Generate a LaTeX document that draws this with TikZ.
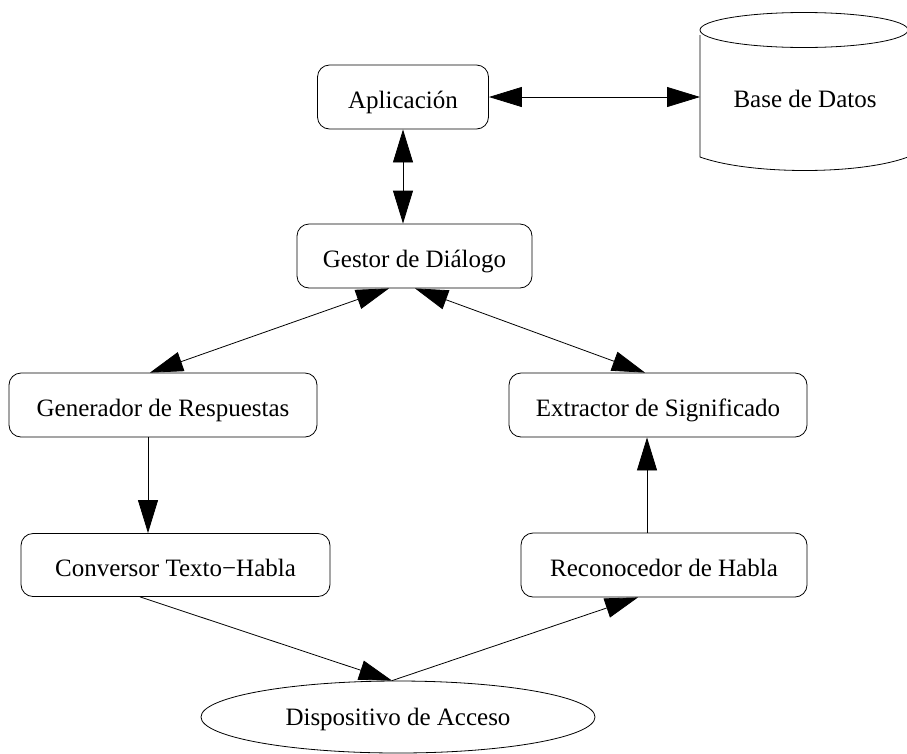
\documentclass[tikz,border=0pt]{standalone}
\usepackage{fontspec}
\setmainfont{Liberation Serif}
\usetikzlibrary{arrows.meta,shapes.geometric}

\begin{document}
\begin{tikzpicture}[x=1pt,y=-1pt,
  font=\fontsize{25}{30}\selectfont,
  every node/.style={inner sep=0pt},
  lowtext/.style={text height=22pt, text depth=0pt},
  box/.style={draw, rounded corners=12pt, line width=0.8pt, lowtext},
  oval/.style={draw, ellipse, line width=0.8pt, inner sep=0pt, text height=16pt, text depth=0pt},
  link/.style={line width=0.8pt, -{Triangle[length=33pt,width=20pt]}},
  dlink/.style={line width=0.8pt, {Triangle[length=33pt,width=20pt]}-{Triangle[length=33pt,width=20pt]}}]
  \useasboundingbox (0,0) rectangle (907,753);
  \clip (0,0) rectangle (907,753);

  % processing modules
  \node[box, minimum width=171pt, minimum height=64pt] (app)    at (403,97)    {Aplicación};
  \node[box, minimum width=235pt, minimum height=64pt] (gestor) at (414.5,256)  {Gestor de Diálogo};
  \node[box, minimum width=308pt, minimum height=64pt] (gen)    at (163,405)    {Generador de Respuestas};
  \node[box, minimum width=298pt, minimum height=64pt] (ext)    at (658,405)    {Extractor de Significado};
  \node[box, minimum width=309pt, minimum height=63pt] (conv)   at (175.5,565)  {Conversor Texto−Habla};
  \node[box, minimum width=286pt, minimum height=64pt] (rec)    at (664,565)    {Reconocedor de Habla};
  \node[oval, minimum width=394pt, minimum height=72pt] (disp)  at (398,717)    {Dispositivo de Acceso};

  % database drum
  \draw[line width=0.8pt] (804,30) ellipse [x radius=104, y radius=17.5];
  \draw[line width=0.8pt] (700,35) -- (700,157)
        .. controls (750,175) and (860,175) .. (908,157);
  \node[lowtext] (db) at (805,96) {Base de Datos};
  \coordinate (dbw) at (700,97);

  % connectors
  \draw[dlink] (app.east) -- (dbw);
  \draw[dlink] (app.south) -- (app.south |- gestor.north);
  \draw[dlink] ([xshift=-25.5pt]gestor.south) -- ([xshift=-13pt]gen.north);
  \draw[dlink] ([xshift=0.5pt]gestor.south) -- ([xshift=-13pt]ext.north);
  \draw[link] ([xshift=-15pt]gen.south) -- ([xshift=-15pt]gen.south |- conv.north);
  \draw[link] ([xshift=-17pt]rec.north) -- ([xshift=-17pt]rec.north |- ext.south);
  \draw[link] ([xshift=-35.5pt]conv.south) -- ([xshift=-6pt]disp.north);
  \draw[link] ([xshift=-6pt]disp.north) -- ([xshift=-26pt]rec.south);
\end{tikzpicture}
\end{document}
